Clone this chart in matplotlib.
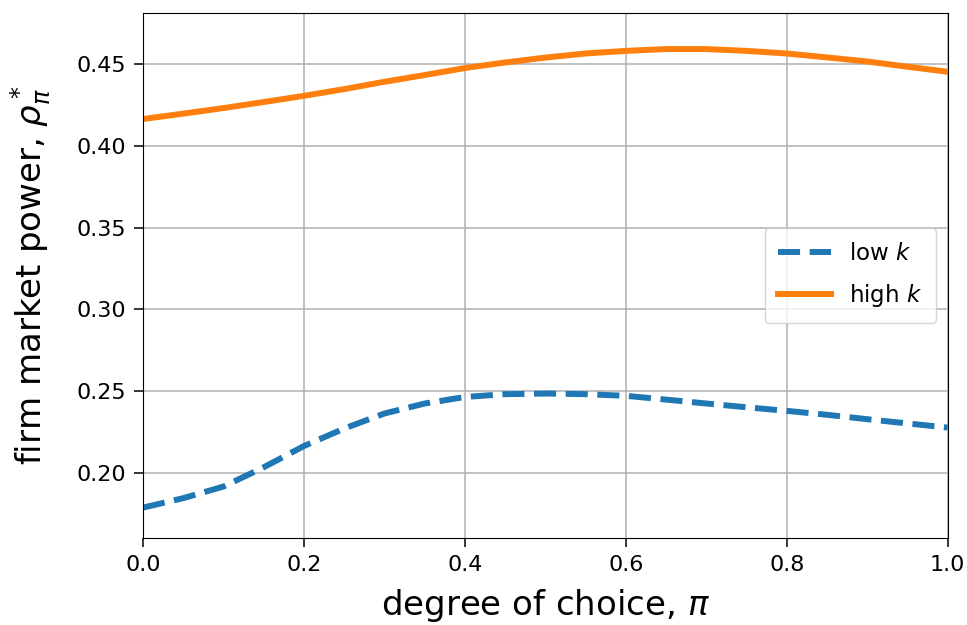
import matplotlib

matplotlib.use("Agg")
import matplotlib.pyplot as plt  # noqa: E402

# degree of choice grid and market power
choice = [0.0, 0.05, 0.1, 0.15, 0.2, 0.25, 0.3, 0.35, 0.4, 0.45, 0.5,
          0.55, 0.6, 0.65, 0.7, 0.75, 0.8, 0.85, 0.9, 0.95, 1.0]
low_k = [0.1786, 0.1844, 0.1915, 0.2033, 0.2163, 0.2270, 0.2362, 0.2423,
         0.2463, 0.2480, 0.2484, 0.2480, 0.2470, 0.2447, 0.2423, 0.2400,
         0.2378, 0.2354, 0.2327, 0.2301, 0.2276]
high_k = [0.4164, 0.4197, 0.4231, 0.4268, 0.4306, 0.4347, 0.4392, 0.4433,
          0.4476, 0.4510, 0.4540, 0.4565, 0.4581, 0.4592, 0.4592, 0.4581,
          0.4565, 0.4541, 0.4516, 0.4484, 0.4453]
y_ticks = [0.20, 0.25, 0.30, 0.35, 0.40, 0.45]

fig = plt.figure(figsize=(9.67, 6.25), dpi=100)
ax = fig.add_axes([0.148, 0.14, 0.832, 0.839])

ax.plot(choice, low_k, "--", lw=4.3, color="#1f77b4", label="low $k$")
ax.plot(choice, high_k, "-", lw=4.3, color="#ff7f0e", label="high $k$")

ax.set_xlim(0, 1)
ax.set_ylim(0.1603, 0.4812)
ax.set_yticks(y_ticks)
ax.tick_params(labelsize=16, length=6.5, width=1.1, pad=6)
ax.grid(True, color="#b0b0b0", lw=1.1)
ax.set_xlabel(r"degree of choice, $\pi$", fontsize=24.5, labelpad=9)
ax.set_ylabel(r"firm market power, $\rho^*_\pi$", fontsize=24.5,
              labelpad=16)
ax.legend(loc="center right", fontsize=16.5, handlelength=2.3,
          labelspacing=0.75, borderpad=0.6)

fig.savefig("out.png", dpi=100)
